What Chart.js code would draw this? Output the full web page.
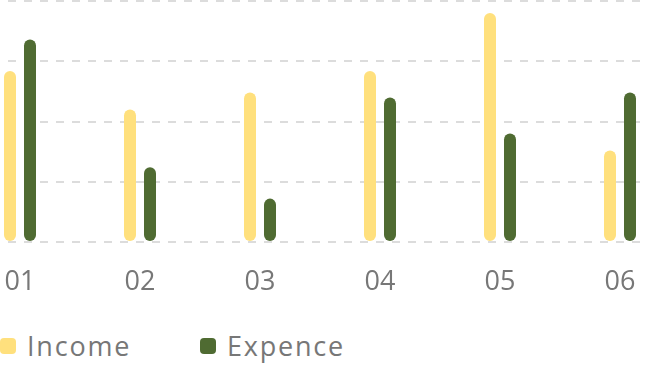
<!DOCTYPE html>
<html>
<head>
<meta charset="utf-8">
<script src="https://cdn.jsdelivr.net/npm/chart.js@4.4.1/dist/chart.umd.min.js"></script>
<style>
  html, body { margin: 0; padding: 0; background: #fff; overflow: hidden; }
  body { width: 646px; height: 368px; position: relative; font-family: "Open Sans", sans-serif; }
  #wrap { position: absolute; left: -40px; top: 0; width: 720px; height: 311px; }
  .legend { position: absolute; top: 331px; left: 0; color: #777; font-size: 27px; line-height: 30px; letter-spacing: 1.8px; }
  .legend span { position: absolute; top: 0; display: flex; align-items: center; white-space: nowrap; }
  .legend i { display: inline-block; width: 16px; height: 16px; border-radius: 4px; margin-right: 11px; }
</style>
</head>
<body>
<div id="wrap"><canvas id="myChart"></canvas></div>
<div class="legend" id="legend"></div>
<script>
const labels = ["01", "02", "03", "04", "05", "06"];
const income = [71, 55, 62, 71, 95, 38];
const expence = [84, 31, 18, 60, 45, 62];
const yTicks = [0, 25, 50, 75, 100];

const colors = ["#ffe07d", "#4f6b32"];
const seriesNames = ["Income", "Expence"];
const legendLeft = [0, 200];

const ctx = document.getElementById("myChart").getContext("2d");

const chart = new Chart(ctx, {
  type: "bar",
  data: {
    labels: labels,
    datasets: [
      { label: seriesNames[0], data: income, backgroundColor: colors[0] },
      { label: seriesNames[1], data: expence, backgroundColor: colors[1] },
    ],
  },
  options: {
    responsive: true,
    maintainAspectRatio: false,
    animation: false,
    layout: { padding: { top: 1, left: 0, right: 0, bottom: 0 } },
    datasets: {
      bar: {
        categoryPercentage: 1 / 3,
        barPercentage: 0.6,
        borderRadius: 6,
        borderSkipped: false,
      },
    },
    plugins: {
      legend: { display: false },
      tooltip: { enabled: false },
    },
    scales: {
      x: {
        grid: { display: false },
        border: { display: false },
        ticks: {
          color: "#777",
          padding: 16,
          font: { family: "Open Sans", size: 27 },
        },
        afterFit: (s) => { s.height = 69; },
      },
      y: {
        min: yTicks[0],
        max: yTicks[yTicks.length - 1],
        afterBuildTicks: (s) => { s.ticks = yTicks.map((v) => ({ value: v })); },
        ticks: { display: false },
        border: { display: false, dash: [8, 8] },
        grid: { color: "#dcdcdc", lineWidth: 2, drawTicks: false },
        afterFit: (s) => { s.width = 0; },
      },
    },
  },
});

document.getElementById("legend").innerHTML = seriesNames
  .map((n, i) => `<span style="left:${legendLeft[i]}px"><i style="background:${colors[i]}"></i>${n}</span>`)
  .join("");
</script>
</body>
</html>
